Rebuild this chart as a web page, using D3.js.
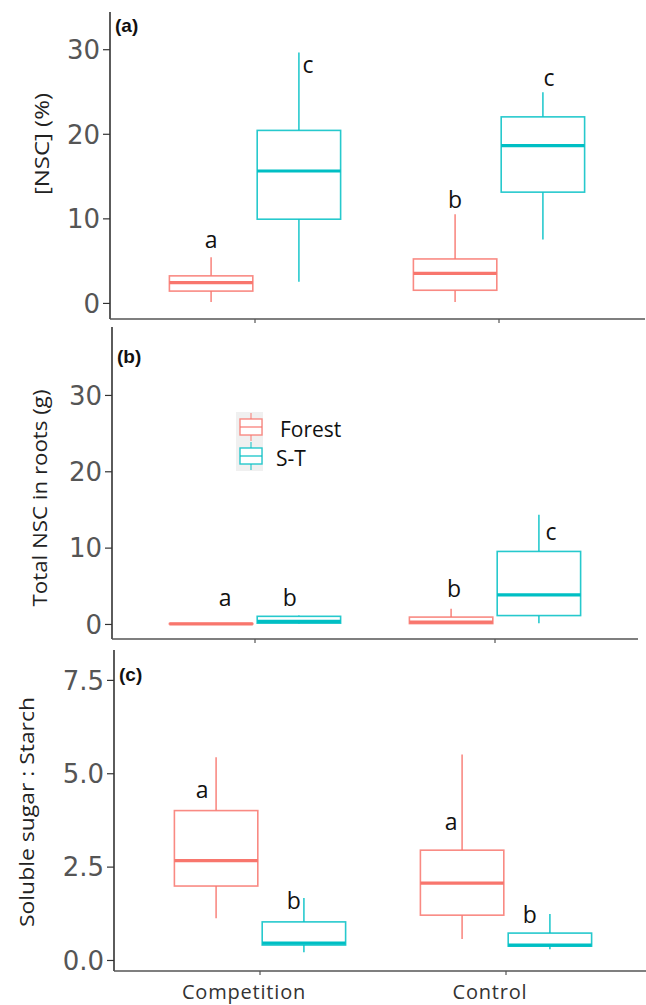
<!DOCTYPE html>
<html>
<head>
<meta charset="utf-8">
<script src="https://cdn.jsdelivr.net/npm/d3@7"></script>
<style>
  body { margin: 0; background: #fff; }
  .tick-label { font-family: "DejaVu Sans", sans-serif; font-size: 26px; fill: #555; }
  .axis-title { font-family: "Open Sans", sans-serif; font-size: 20px; fill: #222; }
  .cat-label { font-family: "Open Sans", sans-serif; font-size: 20px; fill: #333; letter-spacing: 0.8px; }
  .letter { font-family: "Open Sans", sans-serif; font-size: 23px; fill: #111; }
  .panel-tag { font-family: "Liberation Sans", Arial, sans-serif; font-size: 19px; font-weight: bold; fill: #111; }
  .legend-text { font-family: "Open Sans", sans-serif; font-size: 21px; fill: #111; }
</style>
</head>
<body>
<svg id="chart"></svg>
<script>
// Categories and groups
const categories = ["Competition", "Control"];
const groups = ["Forest", "S-T"];
const colors = ["#F8766D", "#00BFC4"];

// Box stats per category: [min, q1, median, q3, max]
const nscForest = [[0.1, 1.4, 2.4, 3.2, 5.4], [0.1, 1.5, 3.5, 5.2, 10.5]];
const nscST = [[2.5, 9.9, 15.6, 20.4, 29.6], [7.5, 13.1, 18.6, 22.0, 24.9]];
const rootForest = [[0, 0, 0.02, 0.05, 0.08], [0, 0.05, 0.25, 0.9, 2.0]];
const rootST = [[0, 0.1, 0.35, 1.0, 1.1], [0.1, 1.1, 3.8, 9.5, 14.3]];
const ratioForest = [[1.12, 1.98, 2.66, 4.0, 5.43], [0.56, 1.2, 2.06, 2.94, 5.5]];
const ratioST = [[0.21, 0.4, 0.45, 1.02, 1.66], [0.29, 0.37, 0.4, 0.72, 1.23]];

// Significance letters [category][group] and their heights (data units)
const nscLetters = [["a", "c"], ["b", "c"]];
const nscLetterY = [[6.5, 27.2], [11.2, 25.7]];
const rootLetters = [["a", "b"], ["b", "c"]];
const rootLetterY = [[2.4, 2.4], [3.5, 11.0]];
const ratioLetters = [["a", "b"], ["a", "b"]];
const ratioLetterY = [[4.34, 1.37], [3.48, 0.99]];

// Tick values
const nscTicks = [0, 10, 20, 30];
const rootTicks = [0, 10, 20, 30];
const ratioTicks = [0, 2.5, 5.0, 7.5];

const width = 646, height = 1005;
const svg = d3.select("#chart").attr("width", width).attr("height", height);

function drawPanel(p) {
    const g = svg.append("g");

    const y = d3.scaleLinear().domain(p.domain).range([p.bottom, p.top]);
    const x0 = d3.scaleBand().domain(categories)
        .range([p.catStart, p.catStart + 2 * p.catStep]);
    const half = x0.bandwidth() / 2;
    const x1 = d3.scaleBand().domain(groups)
        .range([half - 90, half + 90]).padding(0.05);

    // y axis
    const yAxis = g.append("g")
        .attr("transform", `translate(${p.left},0)`)
        .call(d3.axisLeft(y).tickValues(p.ticks).tickSize(7).tickPadding(3)
            .tickFormat(p.fmt));
    yAxis.select(".domain").remove();
    yAxis.selectAll(".tick line").attr("stroke", "#333").attr("stroke-width", 1.2);
    yAxis.selectAll(".tick text").attr("class", "tick-label").attr("fill", null)
        .attr("font-size", null).attr("font-family", null).attr("dy", "0.36em");

    g.append("line")
        .attr("x1", p.left).attr("x2", p.left)
        .attr("y1", p.top).attr("y2", p.bottom)
        .attr("stroke", "#333").attr("stroke-width", 1.6);

    // x axis
    const xAxis = g.append("g")
        .attr("transform", `translate(0,${p.bottom})`)
        .call(d3.axisBottom(x0).tickSize(4).tickFormat(p.showCats ? d => d : ""));
    xAxis.select(".domain").remove();
    xAxis.selectAll(".tick line").attr("stroke", "#555").attr("stroke-width", 1.2);
    xAxis.selectAll(".tick text").attr("class", "cat-label").attr("fill", null)
        .attr("font-size", null).attr("font-family", null)
        .attr("dy", "1.05em").attr("dx", -16);

    g.append("line")
        .attr("x1", p.left).attr("x2", p.right)
        .attr("y1", p.bottom).attr("y2", p.bottom)
        .attr("stroke", "#555").attr("stroke-width", 1.6);

    // boxes
    const bw = x1.bandwidth();
    categories.forEach((cat, ci) => {
        groups.forEach((grp, gi) => {
            const s = p.series[gi][ci];
            const cx = x0(cat) + x1(grp) + bw / 2;
            const col = colors[gi];
            const bg = g.append("g");
            [[s[0], s[1]], [s[3], s[4]]].forEach(seg => {
                bg.append("line")
                    .attr("x1", cx).attr("x2", cx)
                    .attr("y1", y(seg[0])).attr("y2", y(seg[1]))
                    .attr("stroke", col).attr("stroke-width", 1.6).attr("stroke-opacity", 0.85);
            });
            bg.append("rect")
                .attr("x", cx - bw / 2).attr("width", bw)
                .attr("y", y(s[3])).attr("height", Math.max(0, y(s[1]) - y(s[3])))
                .attr("fill", "#fff").attr("stroke", col)
                .attr("stroke-width", 1.6).attr("stroke-opacity", 0.85);
            bg.append("line")
                .attr("x1", cx - bw / 2).attr("x2", cx + bw / 2)
                .attr("y1", y(s[2])).attr("y2", y(s[2]))
                .attr("stroke", col).attr("stroke-width", 3.2);

            g.append("text")
                .attr("class", "letter")
                .attr("x", cx + p.letterDx[ci][gi])
                .attr("y", y(p.letterY[ci][gi]))
                .attr("text-anchor", "middle")
                .text(p.letters[ci][gi]);
        });
    });

    // panel tag
    g.append("text").attr("class", "panel-tag")
        .attr("x", p.left + 5).attr("y", p.tagY).text(p.tag);

    // y title
    g.append("text").attr("class", "axis-title")
        .attr("transform", `translate(${p.titleX},${p.titleY}) rotate(-90)`)
        .attr("text-anchor", "middle")
        .attr("textLength", p.titleLen).attr("lengthAdjust", "spacingAndGlyphs")
        .text(p.title);

    return { g, y, x0, x1 };
}

drawPanel({
    series: [nscForest, nscST], letters: nscLetters, letterY: nscLetterY,
    letterDx: [[0, 9], [0, 6]],
    ticks: nscTicks, fmt: d3.format("d"),
    domain: [-1.9, 34.4], top: 12, bottom: 319, left: 110, right: 645,
    catStart: 133, catStep: 244, showCats: false,
    tag: "(a)", tagY: 32, title: "[NSC] (%)", titleX: 49, titleY: 144, titleLen: 102
});

const rootPanel = drawPanel({
    series: [rootForest, rootST], letters: rootLetters, letterY: rootLetterY,
    letterDx: [[14, -9], [3, 12]],
    ticks: rootTicks, fmt: d3.format("d"),
    domain: [-1.97, 38.9], top: 327, bottom: 639, left: 112, right: 638,
    catStart: 135, catStep: 240, showCats: false,
    tag: "(b)", tagY: 363, title: "Total NSC in roots (g)", titleX: 47, titleY: 498, titleLen: 217
});

drawPanel({
    series: [ratioForest, ratioST], letters: ratioLetters, letterY: ratioLetterY,
    letterDx: [[-14, -10], [-11, -20]],
    ticks: ratioTicks, fmt: d3.format(".1f"),
    domain: [-0.295, 8.3], top: 650, bottom: 971, left: 114, right: 646,
    catStart: 137, catStep: 246, showCats: true,
    tag: "(c)", tagY: 681, title: "Soluble sugar : Starch", titleX: 34, titleY: 812, titleLen: 230
});

// Legend inside panel (b)
const legend = rootPanel.g.append("g");
legend.append("rect")
    .attr("x", 236).attr("y", 412).attr("width", 27).attr("height", 59)
    .attr("fill", "#f0f0f0");
groups.forEach((grp, i) => {
    const top = 419 + i * 29;
    const cx = 251;
    legend.append("line").attr("x1", cx).attr("x2", cx)
        .attr("y1", top - 6).attr("y2", top)
        .attr("stroke", colors[i]).attr("stroke-width", 1.2).attr("stroke-opacity", 0.8);
    legend.append("line").attr("x1", cx).attr("x2", cx)
        .attr("y1", top + 16).attr("y2", top + 22)
        .attr("stroke", colors[i]).attr("stroke-width", 1.2).attr("stroke-opacity", 0.8);
    legend.append("rect").attr("x", 240).attr("y", top).attr("width", 22).attr("height", 16)
        .attr("fill", "#fff").attr("stroke", colors[i]).attr("stroke-width", 1.4).attr("stroke-opacity", 0.85);
    legend.append("line").attr("x1", 240).attr("x2", 262)
        .attr("y1", top + 8).attr("y2", top + 8)
        .attr("stroke", colors[i]).attr("stroke-width", 1.4).attr("stroke-opacity", 0.85);
    legend.append("text").attr("class", "legend-text")
        .attr("x", i === 0 ? 280 : 276).attr("y", top + 18)
        .text(grp);
});
</script>
</body>
</html>
